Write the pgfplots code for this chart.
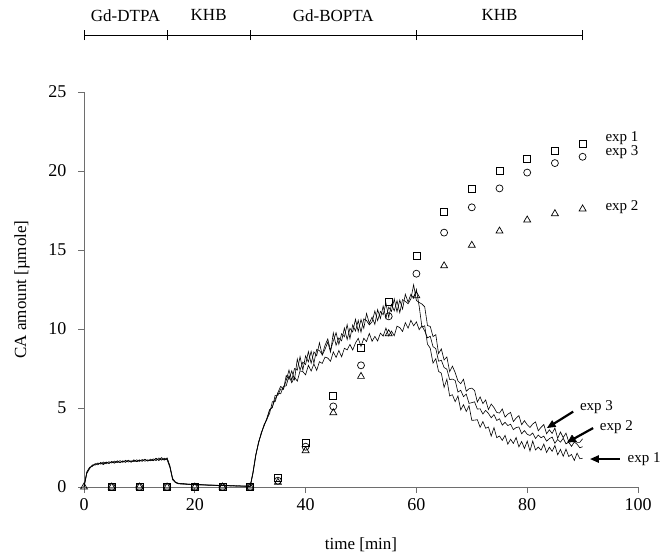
\documentclass[border=0pt]{standalone}
\usepackage{fontspec}
\setmainfont{Liberation Serif}
\usepackage{pgfplots}
\usepackage{pgfplotstable}
\pgfplotsset{compat=1.18}
\usetikzlibrary{arrows.meta}
\definecolor{axisgray}{HTML}{6E6E6E}

% measured amounts, sampled every half minute
\pgfplotstableread{
t e1 e2 e3
0 0 0 0
0.5 0.95 0.85 0.90
1 1.25 1.15 1.20
1.5 1.30 1.40 1.35
2 1.48 1.38 1.45
2.5 1.40 1.52 1.47
3 1.55 1.45 1.50
3.5 1.47 1.58 1.42
4 1.58 1.47 1.56
4.5 1.50 1.60 1.49
5 1.62 1.52 1.58
5.5 1.52 1.64 1.51
6 1.60 1.55 1.66
6.5 1.54 1.67 1.55
7 1.66 1.56 1.62
7.5 1.56 1.69 1.58
8 1.70 1.58 1.66
8.5 1.58 1.66 1.57
9 1.68 1.60 1.72
9.5 1.61 1.72 1.60
10 1.72 1.62 1.68
10.5 1.63 1.74 1.64
11 1.74 1.63 1.76
11.5 1.64 1.72 1.65
12 1.76 1.66 1.70
12.5 1.66 1.78 1.68
13 1.80 1.67 1.82
13.5 1.68 1.84 1.70
14 1.78 1.70 1.86
14.5 1.70 1.82 1.72
15 1.80 1.72 1.84
15.5 1.30 1.25 1.35
16 0.50 0.45 0.55
16.5 0.32 0.28 0.30
17 0.24 0.20 0.22
17.5 0.20 0.23 0.18
18 0.22 0.17 0.20
18.5 0.16 0.20 0.19
19 0.19 0.15 0.17
19.5 0.15 0.18 0.16
20 0.17 0.14 0.18
20.5 0.13 0.16 0.14
21 0.16 0.12 0.15
21.5 0.12 0.15 0.13
22 0.14 0.11 0.14
22.5 0.11 0.14 0.10
23 0.13 0.10 0.12
23.5 0.10 0.12 0.11
24 0.12 0.09 0.10
24.5 0.09 0.11 0.08
25 0.11 0.08 0.10
25.5 0.08 0.10 0.07
26 0.10 0.07 0.09
26.5 0.07 0.09 0.06
27 0.09 0.06 0.08
27.5 0.06 0.08 0.05
28 0.08 0.05 0.07
28.5 0.05 0.07 0.05
29 0.07 0.04 0.06
29.5 0.04 0.06 0.04
30 0.05 0.03 0.05
30.5 0.95 0.85 0.90
31 2.05 1.95 2.00
31.5 2.75 2.85 2.80
32 3.45 3.35 3.40
32.5 3.85 3.95 3.90
33 4.35 4.25 4.30
33.5 4.90 4.85 4.65
34 5.02 5.08 5.40
34.5 5.80 5.55 5.40
35 5.80 5.95 5.98
35.5 6.20 5.90 6.37
36 6.18 6.38 6.20
36.5 7.05 6.40 6.75
37 6.80 7.05 7.40
37.5 7.35 6.60 6.75
38 6.80 6.95 7.50
38.5 8.10 6.70 7.40
39 7.40 7.35 8.25
39.5 7.90 7.30 7.40
40 7.75 7.10 8.30
40.5 8.57 7.70 7.92
41 7.83 7.34 8.58
41.5 8.55 7.79 7.85
42 8.31 7.38 8.71
42.5 9.13 7.93 8.63
43 8.34 7.82 8.39
43.5 8.71 8.22 8.96
44 9.17 8.16 9.37
44.5 8.54 7.96 8.64
45 9.75 8.55 9.25
45.5 8.97 8.20 9.77
46 9.43 8.64 9.03
46.5 9.25 8.24 9.70
47 10.06 8.78 9.51
47.5 9.33 8.68 10.28
48 10.04 9.02 9.39
48.5 9.81 8.67 10.26
49 10.62 9.11 9.87
49.5 9.84 9.41 10.54
50 10.60 8.90 9.80
50.5 10.04 9.41 10.64
51 10.98 9.21 10.53
51.5 10.36 9.72 10.26
52 10.75 9.22 10.45
52.5 10.29 9.53 11.14
53 11.23 9.24 10.53
53.5 10.66 9.74 11.11
54 11.45 9.55 10.90
54.5 10.69 10.06 11.64
55 11.38 9.56 10.73
55.5 11.11 9.87 11.56
56 11.90 9.57 11.15
56.5 11.09 10.18 11.79
57 11.83 10.09 11.03
57.5 11.26 9.84 11.86
58 12.20 10.40 11.75
58.5 11.70 10.05 11.60
59 12.20 10.55 11.90
59.5 11.95 10.20 12.80
60 12.50 10.45 11.80
60.5 11.44 9.96 11.68
61 10.12 10.20 11.58
61.5 10.20 9.88 11.40
62 9.04 9.44 10.22
62.5 8.78 9.54 10.16
63 7.84 8.88 9.52
63.5 8.12 8.76 9.64
64 7.32 7.96 8.44
64.5 7.20 8.02 8.74
65 6.30 7.56 8.04
65.5 6.83 7.46 8.23
66 5.76 6.80 7.30
66.5 5.84 6.83 7.65
67 5.40 6.74 7.24
67.5 5.76 6.01 6.71
68 4.88 6.12 6.54
68.5 5.21 5.72 6.82
69 4.78 5.88 6.06
69.5 5.14 5.29 6.22
70 4.22 5.34 6.26
70.5 4.23 5.39 6.11
71 4.26 4.93 5.38
71.5 3.78 4.95 5.70
72 4.14 4.62 5.28
72.5 3.72 4.85 5.51
73 3.80 4.66 4.90
73.5 3.22 4.38 5.25
74 3.76 4.58 5.03
74.5 3.12 4.21 4.72
75 3.23 4.32 4.68
75.5 2.95 3.92 4.94
76 3.27 4.09 4.42
76.5 2.71 3.89 4.61
77 3.02 3.97 4.72
77.5 2.76 3.63 4.14
78 3.13 3.76 4.36
78.5 2.54 3.80 4.52
79 2.88 3.37 3.94
79.5 2.44 3.57 4.20
80 2.90 3.34 3.94
80.5 2.28 3.26 3.77
81 2.91 3.42 3.99
81.5 2.34 3.07 4.12
82 2.53 3.29 3.56
82.5 2.33 3.12 3.78
83 2.72 3.22 3.95
83.5 2.18 2.90 3.37
84 2.52 3.06 3.62
84.5 2.26 3.16 3.39
85 2.63 2.77 3.73
85.5 2.04 3.01 3.08
86 2.38 2.84 3.48
86.5 1.94 3.08 3.13
87 2.40 2.73 3.41
87.5 1.93 2.83 2.85
88 2.06 2.57 3.25
88.5 1.68 2.85 3.08
89 2.14 2.71 2.82
89.5 1.79 2.48 2.83
90 1.82 2.55 3.05
}\curves

% sampled amounts every 5 min: sq = exp 1, ci = exp 3, tr = exp 2
\pgfplotstableread{
t sq ci tr
0 nan nan 0
5 0 0 0
10 0 0 0
15 0 0 0
20 0 0 0
25 0 0 0
30 0 0 0
35 0.55 0.40 0.30
40 2.80 2.55 2.30
45 5.80 5.10 4.70
50 8.80 7.70 7.00
55 11.70 10.80 9.70
60 14.60 13.50 12.10
65 17.40 16.10 14.00
70 18.90 17.70 15.30
75 20.00 18.90 16.20
80 20.80 19.90 16.90
85 21.30 20.50 17.30
90 21.70 20.90 17.60
}\samples

\begin{document}
\begin{tikzpicture}[font=\fontsize{17bp}{20bp}\selectfont]
\useasboundingbox (0,0) rectangle (669bp,557bp);
\begin{axis}[
    at={(84bp,70bp)}, anchor=south west,
    width=554bp, height=395bp, scale only axis,
    xmin=0, xmax=100, ymin=0, ymax=25,
    axis x line*=bottom, axis y line*=left,
    xtick={0,20,...,100}, ytick={0,5,...,25},
    tick align=outside, major tick length=6bp,
    tick style={axisgray, line width=0.9bp},
    axis line style={axisgray, line width=0.9bp},
    /pgf/number format/assume math mode=true,
    tick label style={font=\fontsize{18bp}{21bp}\selectfont},
    yticklabel style={xshift=-8bp},
    xticklabel style={yshift=-2bp},
    xlabel={time [min]}, ylabel={CA amount [µmole]},
    every axis x label/.style={at={(axis description cs:0.5,-0.147)}, anchor=center},
    every axis y label/.style={at={(axis description cs:-0.112,0.5)}, rotate=90, anchor=center},
    clip=false,
  ]
  \addplot[black, line width=0.6bp] table[x=t, y=e1] {\curves};
  \addplot[black, line width=0.6bp] table[x=t, y=e2] {\curves};
  \addplot[black, line width=0.6bp] table[x=t, y=e3] {\curves};

  \addplot[only marks, mark=square, mark size=3.5bp, mark options={black, line width=0.7bp}] table[x=t, y=sq] {\samples};
  \addplot[only marks, mark=o, mark size=3.5bp, mark options={black, line width=0.7bp}] table[x=t, y=ci] {\samples};
  \addplot[only marks, mark=triangle, mark size=4bp, mark options={black, line width=0.7bp}] table[x=t, y=tr] {\samples};

  % labels beside the sampled points
  \begin{scope}[font=\fontsize{15bp}{18bp}\selectfont]
    \node[anchor=west] at (axis cs:93.5,22.1) {exp 1};
    \node[anchor=west] at (axis cs:93.5,21.2) {exp 3};
    \node[anchor=west] at (axis cs:93.5,17.7) {exp 2};

    % arrows to the end of each curve
    \draw[-{Triangle[length=9bp,width=7bp]}, line width=2.2bp] (axis cs:88.3,4.77) -- (axis cs:83.5,3.72);
    \draw[-{Triangle[length=9bp,width=7bp]}, line width=2.2bp] (axis cs:91.9,3.73) -- (axis cs:87.1,2.80);
    \draw[-{Triangle[length=9bp,width=7bp]}, line width=2.2bp] (axis cs:96.7,1.77) -- (axis cs:91.3,1.77);
    \node[anchor=west] at (axis cs:88.9,5.08) {exp 3};
    \node[anchor=west] at (axis cs:92.5,3.82) {exp 2};
    \node[anchor=west] at (axis cs:97.5,1.77) {exp 1};
  \end{scope}

  % perfusion schedule above the plot
  \draw[line width=0.9bp] (axis cs:0,28.6) -- (axis cs:90,28.6);
  \draw[line width=0.9bp] (axis cs:0,28.6) ++(0,-5bp) -- ++(0,10bp);
  \draw[line width=0.9bp] (axis cs:15,28.6) ++(0,-5bp) -- ++(0,10bp);
  \draw[line width=0.9bp] (axis cs:30,28.6) ++(0,-5bp) -- ++(0,10bp);
  \draw[line width=0.9bp] (axis cs:60,28.6) ++(0,-5bp) -- ++(0,10bp);
  \draw[line width=0.9bp] (axis cs:90,28.6) ++(0,-5bp) -- ++(0,10bp);
  \node at (axis cs:7.5,29.85) {Gd-DTPA};
  \node at (axis cs:22.5,29.85) {KHB};
  \node at (axis cs:45,29.85) {Gd-BOPTA};
  \node at (axis cs:75,29.85) {KHB};
\end{axis}
\end{tikzpicture}
\end{document}
